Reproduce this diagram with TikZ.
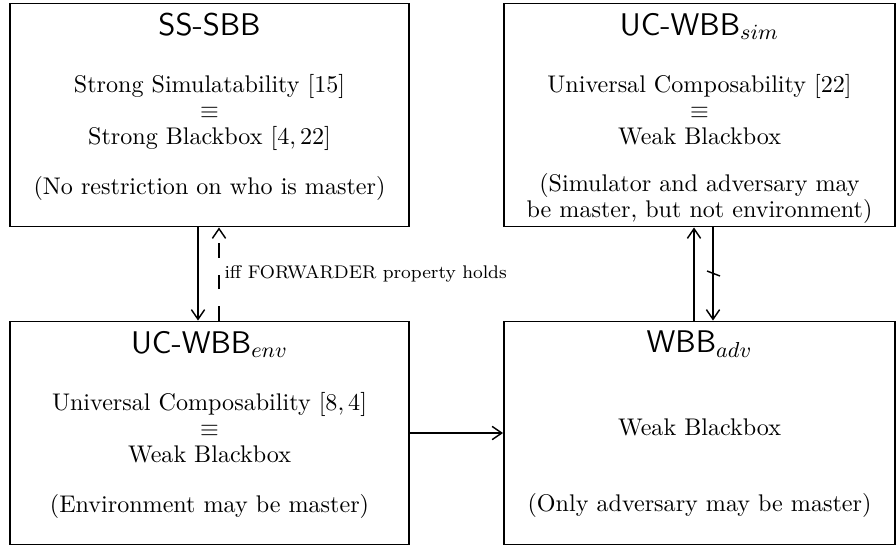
\documentclass[tikz,border=0pt]{standalone}
\usepackage{tikz}
\usetikzlibrary{calc,arrows.meta}
\newlength{\pxu}
\setlength{\pxu}{0.415pt}
\newcommand{\blkfont}{\fontsize{10pt}{10.8pt}\selectfont\lineskiplimit=-100pt\relax}
\newcommand{\ttlfont}{\sffamily\fontsize{13pt}{15pt}\selectfont}

\begin{document}
\begin{tikzpicture}[x=1\pxu,y=-1\pxu,
  blk/.style={draw,thick,minimum width=#1,minimum height=223\pxu,inner sep=0pt},
  blktext/.style={anchor=north,align=center,inner sep=0pt,font=\blkfont},
  arr/.style={thick,-{Straight Barb[length=4pt,width=5.5pt,line width=0.6pt]}}]
\useasboundingbox (0,0) rectangle (896,548);
%Boxes
\node[blk=399\pxu] (sssbb) at (209.5,115) {};
\node[blk=391\pxu] (ucsim) at (699.5,115) {};
\node[blk=399\pxu] (ucenv) at (209.5,433) {};
\node[blk=391\pxu] (wbbadv) at (699.5,433) {};
%Box texts
\node[blktext] (sssbbtxt) at ($(sssbb.north)+(0,10)$) {{\ttlfont SS-SBB}\\[12.9pt]
  Strong Simulatability [15]\\ $\equiv$\\ Strong Blackbox [$4,22$]\\[9.9pt]
  (No restriction on who is master)};
\node[blktext] (ucsimtxt) at ($(ucsim.north)+(0,10)$) {{\ttlfont UC-WBB$_{sim}$}\\[12.9pt]
  Universal Composability [22]\\ $\equiv$\\ Weak Blackbox\\[8.7pt]
  (Simulator and adversary may\\ be master, but not environment)};
\node[blktext] (ucenvtxt) at ($(ucenv.north)+(0,10)$) {{\ttlfont UC-WBB$_{env}$}\\[12.9pt]
  Universal Composability [$8,4$]\\ $\equiv$\\ Weak Blackbox\\[9.9pt]
  (Environment may be master)};
\node[blktext] (wbbadvtxt) at ($(wbbadv.north)+(0,10)$) {{\ttlfont WBB$_{adv}$}\\[12.9pt]
  \mbox{}\\ Weak Blackbox\\ \mbox{}\\[9.9pt]
  (Only adversary may be master)};
%Arrows
\draw[arr] ($(sssbb.south)+(-11.5,0)$) -- ($(ucenv.north)+(-11.5,0)$);
\draw[arr,semithick,dash pattern=on 6pt off 7pt] ($(ucenv.north)+(9.5,0)$) -- ($(sssbb.south)+(9.5,0)$)
  node[midway,right=1pt,inner sep=1pt,font=\fontsize{7.6pt}{9pt}\selectfont] (fwd) {iff FORWARDER property holds};
\draw[arr] ($(wbbadv.north)+(-5.5,0)$) -- ($(ucsim.south)+(-5.5,0)$);
\draw[arr] ($(ucsim.south)+(13.5,0)$) -- ($(wbbadv.north)+(13.5,0)$) coordinate[midway] (cut);
\draw[semithick] ($(cut)+(-6,-3)$) -- ($(cut)+(7,2)$); %not
\draw[arr] (ucenv.east) -- (wbbadv.west);
\end{tikzpicture}
\end{document}
